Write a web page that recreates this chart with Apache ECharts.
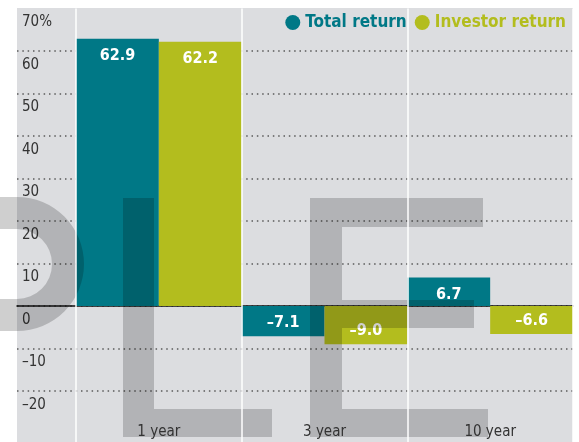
<!DOCTYPE html>
<html>
<head>
<meta charset="utf-8">
<script src="https://cdn.jsdelivr.net/npm/echarts@6/dist/echarts.min.js"></script>
<style>
html,body{margin:0;padding:0;background:#fff;}
#chart{width:579px;height:442px;}
</style>
</head>
<body>
<div id="chart"></div>
<script>
// ---- data ----
const categories = ['1 year', '3 year', '10 year'];
const totalReturn = [62.9, -7.1, 6.7];
const investorReturn = [62.2, -9.0, -6.6];
const seriesNames = ['Total return', 'Investor return'];
const yTicks = { min: -30, max: 70, interval: 10 };

// ---- styles ----
const FONT = '"Liberation Sans Narrow", "DejaVu Sans Condensed", "Roboto Condensed", sans-serif';
const TEAL = '#007886';
const LIME = '#b3bd1e';
const BG = '#dcdde0';
const SHADE = 'rgba(0,0,0,0.19)';

function fmt(v) {
  return v < 0 ? '\u2013' + Math.abs(v).toFixed(1) : v.toFixed(1);
}
function items(arr) {
  return arr.map(v => ({
    value: v,
    label: v >= 0 ? { position: 'insideTop', distance: 9 } : { position: 'insideBottom', distance: 5 }
  }));
}
const barLabel = {
  show: true, color: '#fff', fontFamily: FONT, fontWeight: 'bold', fontSize: 16,
  formatter: p => fmt(p.value)
};

const chart = echarts.init(document.getElementById('chart'), null, { renderer: 'canvas' });
chart.setOption({
  animation: false,
  backgroundColor: '#fff',
  textStyle: { fontFamily: FONT },
  graphic: [
    { type: 'rect', z: -10, silent: true, shape: { x: 17, y: 8, width: 556, height: 434 }, style: { fill: BG } },
    // watermark letters (decoration)
    { type: 'sector', z: 5, silent: true, shape: { cx: 17, cy: 264, r: 67, r0: 35, startAngle: -Math.PI / 2, endAngle: Math.PI / 2 }, style: { fill: SHADE } },
    { type: 'rect', z: 5, silent: true, shape: { x: 0, y: 197, width: 17, height: 32 }, style: { fill: SHADE } },
    { type: 'rect', z: 5, silent: true, shape: { x: 0, y: 299, width: 17, height: 32 }, style: { fill: SHADE } },
    { type: 'rect', z: 5, silent: true, shape: { x: 123, y: 198, width: 31, height: 211 }, style: { fill: SHADE } },
    { type: 'rect', z: 5, silent: true, shape: { x: 123, y: 409, width: 149, height: 28 }, style: { fill: SHADE } },
    { type: 'rect', z: 5, silent: true, shape: { x: 310, y: 198, width: 32, height: 239 }, style: { fill: SHADE } },
    { type: 'rect', z: 5, silent: true, shape: { x: 342, y: 198, width: 141, height: 29 }, style: { fill: SHADE } },
    { type: 'rect', z: 5, silent: true, shape: { x: 342, y: 300, width: 132, height: 28 }, style: { fill: SHADE } },
    { type: 'rect', z: 5, silent: true, shape: { x: 342, y: 409, width: 146, height: 28 }, style: { fill: SHADE } }
  ],
  legend: {
    right: 13, top: 14, padding: 0, itemGap: 8, itemWidth: 15, itemHeight: 15, icon: 'circle',
    textStyle: { fontFamily: FONT, fontWeight: 'bold', fontSize: 17 },
    data: [
      { name: seriesNames[0], textStyle: { color: TEAL } },
      { name: seriesNames[1], textStyle: { color: LIME } }
    ]
  },
  grid: [
    { left: 17, right: 6, top: 8.5, bottom: 8.5 },
    { left: 76, right: 6, top: 8.5, bottom: 0 }
  ],
  xAxis: [
    {
      gridIndex: 0, type: 'value', min: 0, max: 1,
      axisLine: { show: true, onZero: true, lineStyle: { color: '#111', width: 1.5 } },
      axisTick: { show: false }, axisLabel: { show: false }, splitLine: { show: false }
    },
    {
      gridIndex: 1, type: 'category', data: categories, position: 'bottom', z: 10,
      axisLine: { show: false, onZero: false }, axisTick: { show: false },
      axisLabel: { inside: true, margin: 2, color: '#333', fontSize: 15, fontFamily: FONT },
      splitLine: { show: true, lineStyle: { color: '#fff', width: 1.5 } }
    }
  ],
  yAxis: [
    {
      gridIndex: 0, type: 'value', min: yTicks.min, max: yTicks.max, interval: yTicks.interval,
      axisLine: { show: false }, axisTick: { show: false },
      axisLabel: {
        inside: true, margin: 5, color: '#333', fontSize: 15, fontFamily: FONT,
        verticalAlign: 'top', lineHeight: 18, padding: [5, 0, 0, 0],
        formatter: v => v === yTicks.max ? v + '%' : (v === yTicks.min ? '' : (v < 0 ? '\u2013' + Math.abs(v) : String(v)))
      },
      splitLine: { show: true, showMinLine: false, showMaxLine: false, lineStyle: { type: [1.5, 3.83], color: '#5a5a5a', width: 1.5 } }
    },
    { gridIndex: 1, type: 'value', min: -32, max: 70, show: false, splitLine: { show: false } }
  ],
  series: [
    {
      name: seriesNames[0], type: 'bar', xAxisIndex: 1, yAxisIndex: 1, z: 2,
      barGap: '0%', barCategoryGap: '0%',
      itemStyle: { color: TEAL }, label: barLabel, data: items(totalReturn)
    },
    {
      name: seriesNames[1], type: 'bar', xAxisIndex: 1, yAxisIndex: 1, z: 2,
      barGap: '0%', barCategoryGap: '0%',
      itemStyle: { color: LIME }, label: barLabel, data: items(investorReturn)
    }
  ]
});
</script>
</body>
</html>
